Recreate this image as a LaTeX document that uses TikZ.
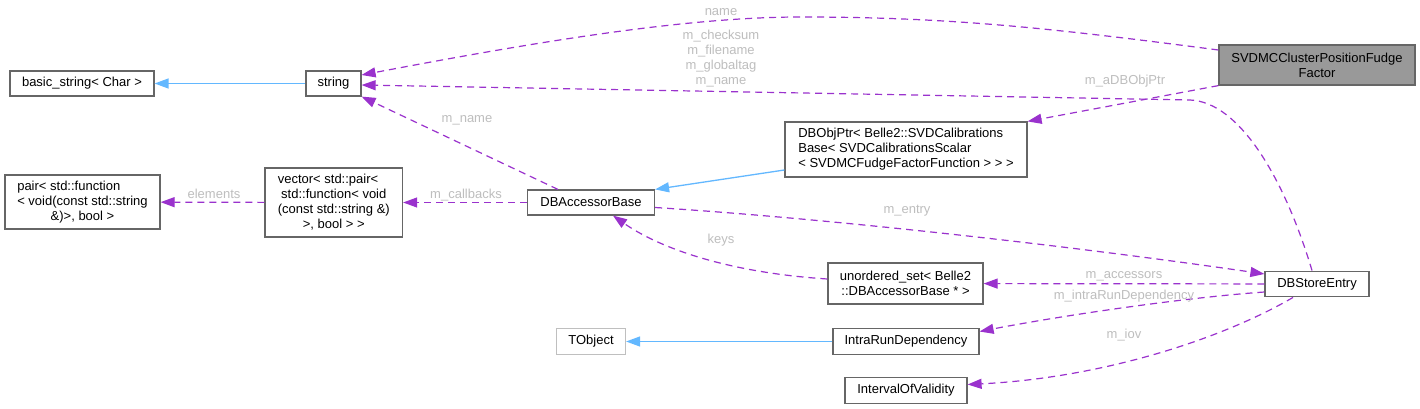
\documentclass[tikz,border=0pt]{standalone}
\usepackage{fontspec}
\setmainfont{Liberation Sans}
\usetikzlibrary{arrows.meta,calc}
\definecolor{edgepurple}{HTML}{9A32CD}
\definecolor{inhblue}{HTML}{63B8FF}
\definecolor{lblgray}{HTML}{BEBEBE}
\definecolor{bordgray}{HTML}{666666}
\definecolor{lightbord}{HTML}{BFBFBF}
\definecolor{hlfill}{HTML}{999999}
\begin{document}
\begin{tikzpicture}[x=1pt,y=-1pt,
  every node/.style={font=\fontsize{13}{15}\selectfont},
  cls/.style={draw=bordgray, line width=1.2pt, fill=white, text=black, inner sep=0pt, align=center},
  extcls/.style={cls, draw=lightbord},
  hlcls/.style={cls, fill=hlfill},
  usage/.style={draw=edgepurple, line width=1.2pt, dash pattern=on 7pt off 5pt,
    -{Triangle[length=14pt,width=10pt,fill=edgepurple]}},
  inherit/.style={draw=inhblue, line width=1.3pt, -{Triangle[length=14pt,width=10pt,fill=inhblue]}},
  lbl/.style={text=lblgray, inner sep=0pt, align=center}
]
\useasboundingbox[fill=white] (0,0) rectangle (1420,409);

% nodes
\node[cls, minimum width=144pt, minimum height=25pt] (bstr) at (82,83.5) {basic\_string< Char >};
\node[cls, minimum width=55pt, minimum height=25pt] (str) at (333.5,83.5) {string};
\node[cls, minimum width=155pt, minimum height=54pt] (pair) at (82.5,202)
  {\rlap{pair< std::function}\phantom{< void(const std::string}\\< void(const std::string\\\&)>, bool >};
\node[cls, minimum width=137.5pt, minimum height=69pt] (vec) at (333.8,202.5)
  {\rlap{vector< std::pair<}\phantom{(const std::string \&)}\\std::function< void\\(const std::string \&)\\>, bool > >};
\node[cls, minimum width=127pt, minimum height=25pt] (dbab) at (591,202.5) {DBAccessorBase};
\node[cls, align=left, minimum width=242pt, minimum height=55pt] (dbop) at (906,149.5)
  {DBObjPtr< Belle2::SVDCalibrations\\Base< SVDCalibrationsScalar\\< SVDMCFudgeFactorFunction > > >};
\node[hlcls, minimum width=196pt, minimum height=40pt] (svd) at (1317,65)
  {SVDMCClusterPositionFudge\\Factor};
\node[cls, minimum width=104pt, minimum height=25.7pt] (dbse) at (1317,284) {DBStoreEntry};
\node[cls, minimum width=155pt, minimum height=41pt] (uset) at (905.5,283.5)
  {unordered\_set< Belle2\\::DBAccessorBase * >};
\node[extcls, minimum width=69pt, minimum height=25.6pt] (tobj) at (591,341.5) {TObject};
\node[cls, minimum width=146pt, minimum height=25.6pt] (intra) at (906,341.5) {IntraRunDependency};
\node[cls, minimum width=122pt, minimum height=25.6pt] (iov) at (906,390.5) {IntervalOfValidity};

% inheritance edges
\draw[inherit] (str) -- (bstr);
\draw[inherit] ($(dbop.west)+(0,20.5)$) -- (dbab.north east);
\draw[inherit] (intra) -- (tobj);

% usage edges
\draw[usage] ($(svd.west)+(0,-15)$) .. controls (1050,28) and (950,17) .. (800,17)
  .. controls (680,17) and (520,45) .. ($(str.east)+(0,-8.5)$);
\draw[usage] ($(dbse.north)+(-5,0)$) .. controls (1285,180) and (1240,102) .. (1190,100)
  -- ($(str.east)+(0,1.5)$);
\draw[usage] ($(dbab.north west)+(31,0)$) -- (str.south east);
\draw[usage] (svd.south west) -- (dbop.north east);
\draw[usage] (dbab) -- (vec);
\draw[usage] (vec) -- (pair);
\draw[usage] ($(dbab.east)+(0,5)$) .. controls (850,220) and (1100,250) .. ($(dbse.west)+(0,-10)$);
\draw[usage] ($(uset.west)+(0,-4.5)$) .. controls (720,272) and (655,245) .. ($(dbab.south)+(22,0)$);
\draw[usage] (dbse) -- (uset);
\draw[usage] ($(dbse.west)+(0,8)$) .. controls (1180,298) and (1060,316) .. ($(intra.east)+(0,-10)$);
\draw[usage] ($(dbse.south)+(-24,0)$) .. controls (1220,340) and (1100,378) .. ($(iov.east)+(0,-6)$);

% labels
\node[lbl] (lname) at (721,12) {name};
\node[lbl] (lcheck) at (721,59) {m\_checksum\\m\_filename\\m\_globaltag\\m\_name};
\node[lbl] (lmname) at (467,120) {m\_name};
\node[lbl] (lptr) at (1125,81) {m\_aDBObjPtr};
\node[lbl] (lcb) at (466,195) {m\_callbacks};
\node[lbl] (lel) at (214,194) {elements};
\node[lbl] (lentry) at (907,211) {m\_entry};
\node[lbl] (lkeys) at (721,240) {keys};
\node[lbl] (lacc) at (1124,276) {m\_accessors};
\node[lbl] (lintra) at (1124,296) {m\_intraRunDependency};
\node[lbl] (liov) at (1124,335) {m\_iov};
\end{tikzpicture}
\end{document}
